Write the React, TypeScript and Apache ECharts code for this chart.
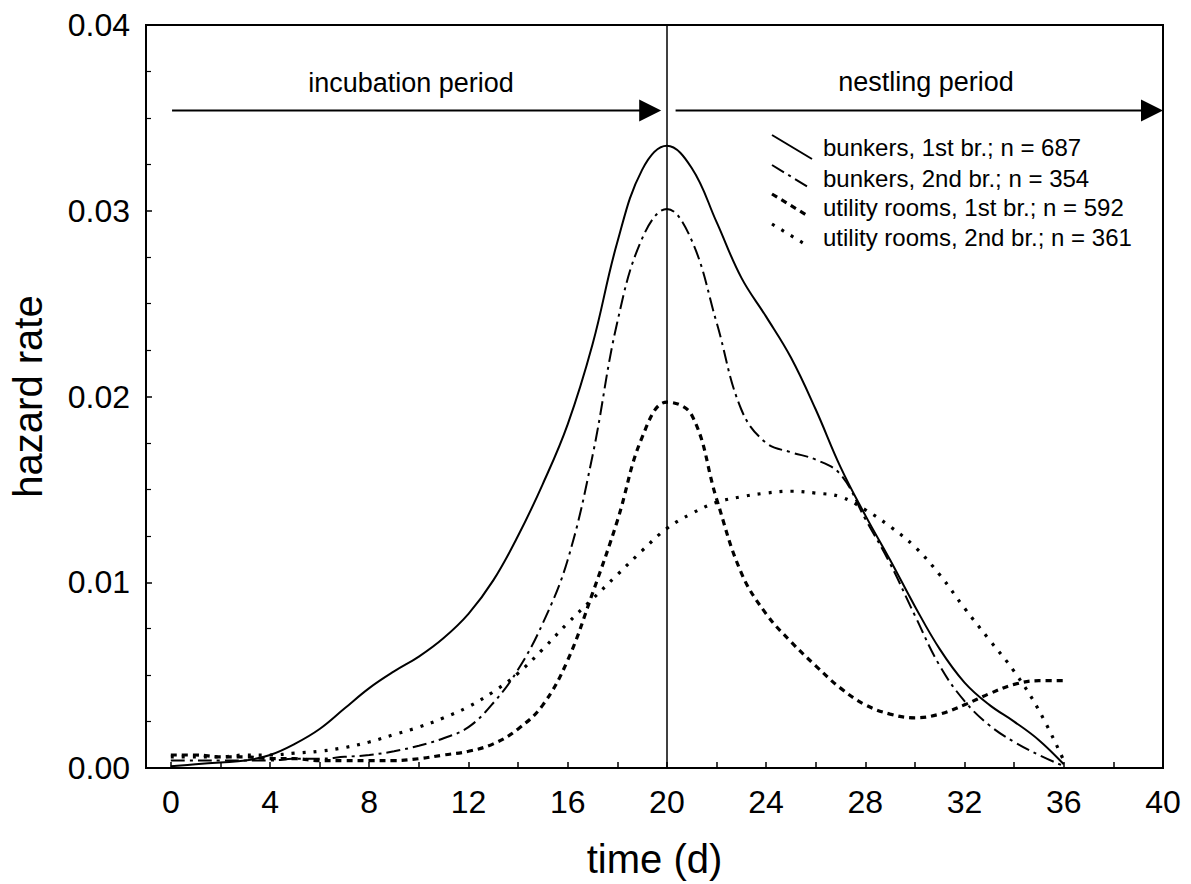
import React, { useEffect, useRef } from 'react';
import * as echarts from 'echarts';

const days = [0, 1, 2, 3, 4, 5, 6, 7, 8, 9, 10, 11, 12, 13, 14, 15, 16, 17, 18, 19, 20, 21, 22, 23, 24, 25, 26, 27, 28, 29, 30, 31, 32, 33, 34, 35, 36];

const bunkers1st = [0.0001, 0.0002, 0.0003, 0.0004, 0.0007, 0.0013, 0.0021, 0.0032, 0.0043, 0.0052, 0.0060, 0.0070, 0.0083, 0.0101, 0.0125, 0.0153, 0.0185, 0.0228, 0.0283, 0.0322, 0.0335, 0.0323, 0.0294, 0.0264, 0.0243, 0.0221, 0.0193, 0.0162, 0.0136, 0.0112, 0.0087, 0.0064, 0.0046, 0.0034, 0.0025, 0.0015, 0.0002];
const bunkers2nd = [0.0004, 0.0004, 0.0004, 0.0004, 0.0004, 0.0005, 0.0005, 0.0006, 0.0007, 0.0009, 0.0012, 0.0016, 0.0022, 0.0035, 0.0053, 0.0078, 0.0112, 0.0168, 0.0240, 0.0285, 0.0301, 0.0284, 0.0240, 0.0193, 0.0175, 0.0170, 0.0166, 0.0158, 0.0134, 0.0110, 0.0082, 0.0055, 0.0036, 0.0023, 0.0014, 0.0007, 0.0001];
const utility1st = [0.0007, 0.0007, 0.0006, 0.0006, 0.0005, 0.0005, 0.0004, 0.0004, 0.0004, 0.0004, 0.0005, 0.0007, 0.0009, 0.0013, 0.0021, 0.0034, 0.0058, 0.0094, 0.0133, 0.0178, 0.0197, 0.0190, 0.0145, 0.0105, 0.0083, 0.0068, 0.0055, 0.0043, 0.0034, 0.0029, 0.0027, 0.0029, 0.0034, 0.0040, 0.0045, 0.0047, 0.0047];
const utility2nd = [0.0006, 0.0006, 0.0006, 0.0007, 0.0007, 0.0008, 0.0009, 0.0011, 0.0014, 0.0018, 0.0022, 0.0027, 0.0033, 0.0041, 0.0051, 0.0064, 0.0078, 0.0091, 0.0104, 0.0117, 0.0129, 0.0137, 0.0143, 0.0146, 0.0148, 0.0149, 0.0148, 0.0146, 0.0139, 0.0130, 0.0119, 0.0104, 0.0086, 0.0069, 0.0052, 0.0031, 0.0004];

const seriesNames = [
  'bunkers, 1st br.; n = 687',
  'bunkers, 2nd br.; n = 354',
  'utility rooms, 1st br.; n = 592',
  'utility rooms, 2nd br.; n = 361',
];

const xTickValues = [0, 2, 4, 6, 8, 10, 12, 14, 16, 18, 20, 22, 24, 26, 28, 30, 32, 34, 36, 38, 40];
const xLabelValues = [0, 4, 8, 12, 16, 20, 24, 28, 32, 36, 40];
const hatchDay = 20;
const arrowLevel = 0.0354;
const incubationArrow = [0.05, 19.77];
const nestlingArrow = [20.35, 40];

const FONT = 'Liberation Sans, Arial, Helvetica, sans-serif';

const styles = [
  { width: 2, type: 'solid' as any },
  { width: 2, type: [14, 5, 3, 5] as any },
  { width: 3.2, type: [6, 5] as any },
  { width: 3.2, type: [3, 8] as any },
];

export default function App() {
  const ref = useRef<HTMLDivElement>(null);

  useEffect(() => {
    const chart = echarts.init(ref.current!, null, { renderer: 'svg' });
    const mk = (vals: number[]) => days.map((d, i) => [d, vals[i]]);
    const allVals = [bunkers1st, bunkers2nd, utility1st, utility2nd];

    const series: any[] = allVals.map((vals, i) => ({
      name: seriesNames[i],
      type: 'line',
      data: mk(vals),
      smooth: 0.4,
      showSymbol: false,
      symbol: 'none',
      silent: true,
      lineStyle: { color: '#000', width: styles[i].width, type: styles[i].type, cap: 'butt' },
      z: 3,
    }));
    series[0].markLine = {
      silent: true,
      symbol: ['none', 'none'],
      label: { show: false },
      lineStyle: { color: '#000', width: 1.5, type: 'solid' },
      data: [{ xAxis: hatchDay }],
    };

    chart.setOption({
      animation: false,
      backgroundColor: '#fff',
      grid: { left: 146, top: 25, right: 28, bottom: 111, show: true, borderColor: '#000', borderWidth: 2, containLabel: false },
      xAxis: {
        type: 'value',
        min: -1,
        max: 40,
        axisLine: { show: true, onZero: false, lineStyle: { color: '#000', width: 2 } },
        axisTick: { show: true, inside: true, length: 6, customValues: xTickValues, lineStyle: { color: '#000', width: 1.5 } },
        axisLabel: { customValues: xLabelValues, fontSize: 32, color: '#000', margin: 18, fontFamily: FONT },
        splitLine: { show: false },
        name: 'time (d)',
        nameLocation: 'middle',
        nameGap: 71,
        nameTextStyle: { fontSize: 40, color: '#000', fontFamily: FONT },
      },
      yAxis: {
        type: 'value',
        min: 0,
        max: 0.04,
        interval: 0.01,
        axisLine: { show: true, onZero: false, lineStyle: { color: '#000', width: 2 } },
        axisTick: { show: true, inside: true, length: 6, lineStyle: { color: '#000', width: 1.5 } },
        minorTick: { show: true, splitNumber: 4, length: 5, lineStyle: { color: '#000', width: 1.2 } },
        axisLabel: { fontSize: 32, color: '#000', margin: 16, fontFamily: FONT, formatter: (v: number) => v.toFixed(2) },
        splitLine: { show: false },
        minorSplitLine: { show: false },
        name: 'hazard rate',
        nameLocation: 'middle',
        nameRotate: 90,
        nameGap: 98,
        nameTextStyle: { fontSize: 40, color: '#000', fontFamily: FONT },
      },
      series,
    });

    const p = (x: number, y: number) => chart.convertToPixel({ gridIndex: 0 }, [x, y]) as number[];
    const arrow = (x0: number, x1: number) => {
      const a = p(x0, arrowLevel);
      const b = p(x1, arrowLevel);
      const head = 22;
      const half = 11;
      return [
        { type: 'line', shape: { x1: a[0], y1: a[1], x2: b[0] - head + 2, y2: b[1] }, style: { stroke: '#000', lineWidth: 2 } },
        { type: 'polygon', shape: { points: [[b[0], b[1]], [b[0] - head, b[1] - half], [b[0] - head, b[1] + half]] }, style: { fill: '#000' } },
      ];
    };

    const legendLines = [
      [772, 135, 812, 159],
      [772, 165, 808, 187],
      [772, 194, 808, 216],
      [772, 224, 808, 246],
    ];
    const legendY = [147, 178, 207, 237];
    const legendGraphics: any[] = [];
    seriesNames.forEach((n, i) => {
      const l = legendLines[i];
      legendGraphics.push({
        type: 'line',
        shape: { x1: l[0], y1: l[1], x2: l[2], y2: l[3] },
        style: { stroke: '#000', lineWidth: styles[i].width, lineDash: styles[i].type === 'solid' ? null : styles[i].type },
      });
      legendGraphics.push({
        type: 'text',
        x: 823,
        y: legendY[i],
        style: { text: n, fontSize: 24, fontFamily: FONT, fill: '#000', verticalAlign: 'middle', align: 'left' },
      });
    });

    chart.setOption({
      graphic: [
        ...arrow(incubationArrow[0], incubationArrow[1]),
        ...arrow(nestlingArrow[0], nestlingArrow[1]),
        { type: 'text', x: 411, y: 83, style: { text: 'incubation period', fontSize: 27, fontFamily: FONT, fill: '#000', align: 'center', verticalAlign: 'middle' } },
        { type: 'text', x: 926, y: 82, style: { text: 'nestling period', fontSize: 27, fontFamily: FONT, fill: '#000', align: 'center', verticalAlign: 'middle' } },
        ...legendGraphics,
      ],
    });

    return () => chart.dispose();
  }, []);

  return <div ref={ref} style={{ position: 'fixed', left: 0, top: 0, width: 1191, height: 884, background: '#fff' }} />;
}
